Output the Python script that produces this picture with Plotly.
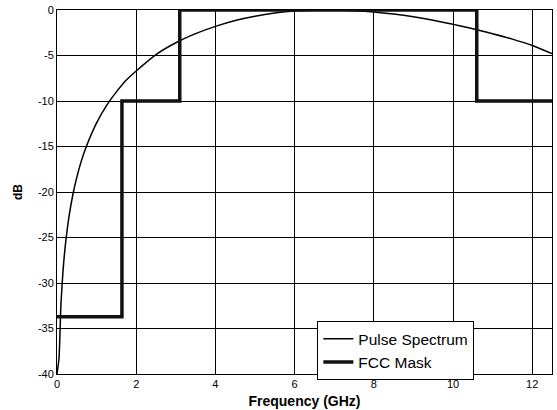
import plotly.graph_objects as go

# Normalised pulse spectrum (dB) versus frequency (GHz)
pulse_freq = [0.0, 0.05, 0.1, 0.15, 0.2, 0.3, 0.4, 0.5, 0.6, 0.75, 1.0, 1.25, 1.5,
              1.75, 2.0, 2.5, 3.0, 3.5, 4.0, 4.5, 5.0, 5.5, 6.0, 6.5, 7.0, 7.5,
              8.0, 8.5, 9.0, 9.5, 10.0, 10.5, 11.0, 11.5, 12.0, 12.5]
pulse_db = [-40.0, -38.3, -32.3, -28.8, -26.3, -22.8, -20.3, -18.4, -16.8, -14.9,
            -12.4, -10.5, -9.0, -7.7, -6.7, -4.9, -3.6, -2.6, -1.8, -1.15, -0.68,
            -0.34, -0.12, -0.03, -0.01, -0.08, -0.22, -0.45, -0.75, -1.12, -1.58,
            -2.05, -2.6, -3.2, -3.9, -4.8]

# FCC emission mask, normalised to the 3.1-10.6 GHz band (dB)
mask_freq = [0.0, 1.64, 1.64, 3.1, 3.1, 10.6, 10.6, 12.5]
mask_db = [-33.7, -33.7, -10.0, -10.0, 0.0, 0.0, -10.0, -10.0]

x_ticks = [0, 2, 4, 6, 8, 10, 12]
y_ticks = [0, -5, -10, -15, -20, -25, -30, -35, -40]

font_family = "Liberation Sans, Arial, sans-serif"

fig = go.Figure()
fig.add_trace(go.Scatter(
    x=pulse_freq, y=pulse_db, mode="lines", name="Pulse Spectrum",
    line=dict(color="black", width=1.5, shape="spline", smoothing=0.6),
))
fig.add_trace(go.Scatter(
    x=mask_freq, y=mask_db, mode="lines", name="FCC Mask",
    line=dict(color="#111111", width=3.5),
))

fig.update_layout(
    width=557, height=410,
    margin=dict(l=57, r=4, t=7, b=36),
    paper_bgcolor="white", plot_bgcolor="white",
    font=dict(family=font_family, size=11, color="black"),
    showlegend=True,
    legend=dict(
        x=0.526, y=0.145, xanchor="left", yanchor="top",
        bgcolor="white", bordercolor="black", borderwidth=1,
        font=dict(size=15.5, family=font_family, color="black"),
        tracegroupgap=0, itemwidth=30,
    ),
)
fig.update_xaxes(
    range=[0, 12.5], tickvals=x_ticks, ticktext=[str(v) for v in x_ticks],
    showgrid=True, gridcolor="black", gridwidth=1,
    showline=True, linecolor="black", linewidth=1, mirror=True,
    zeroline=False, ticks="",
    tickfont=dict(size=11),
    title=dict(text="<b>Frequency (GHz)</b>", font=dict(size=14), standoff=6),
)
fig.update_yaxes(
    range=[-40, 0], tickvals=y_ticks, ticktext=[str(v) for v in y_ticks],
    showgrid=True, gridcolor="black", gridwidth=1,
    showline=True, linecolor="black", linewidth=1, mirror=True,
    zeroline=False, ticks="",
    tickfont=dict(size=11),
    title=dict(text="<b>dB</b>", font=dict(size=12), standoff=12),
)

fig.write_html("out.html")
